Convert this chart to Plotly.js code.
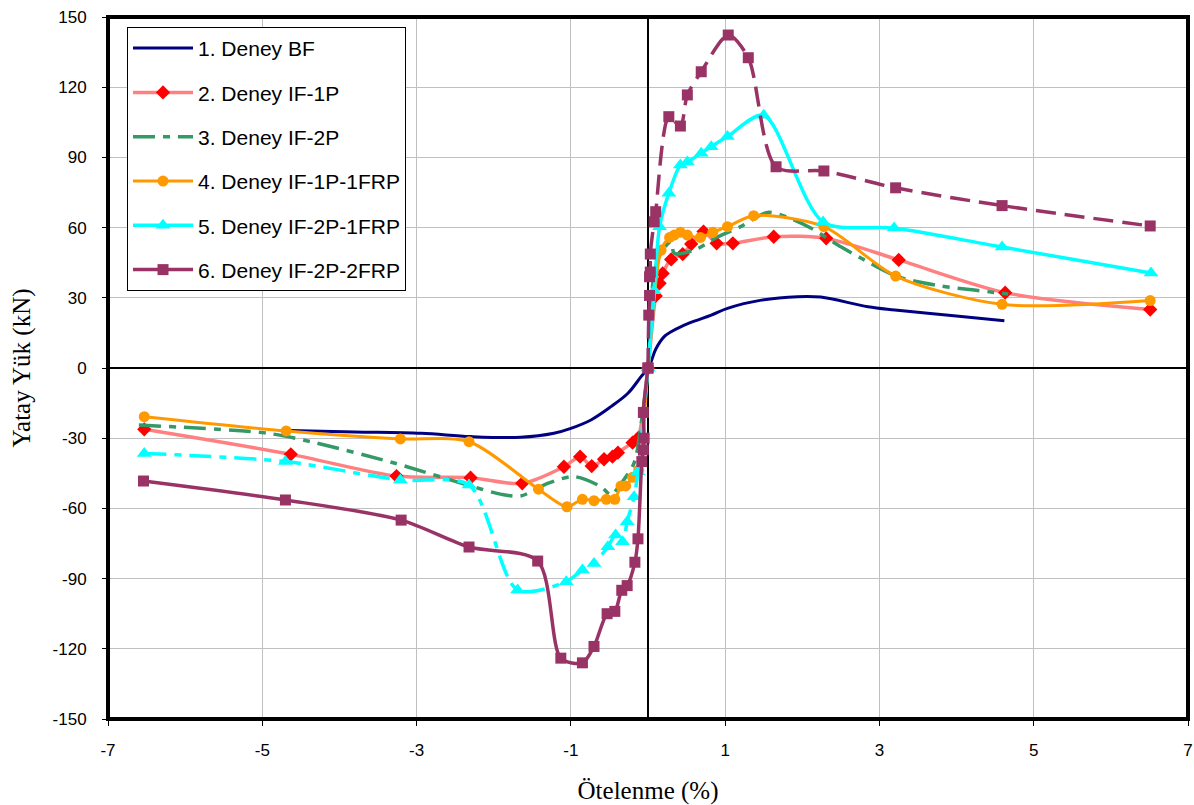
<!DOCTYPE html>
<html>
<head>
<meta charset="utf-8">
<script src="https://cdn.plot.ly/plotly-3.0.1.min.js"></script>
<style>html,body{margin:0;padding:0;background:#fff;}#chart{width:1194px;height:805px;}</style>
</head>
<body>
<div id="chart"></div>
<script>
// ---- Data ----
const seriesNames = ["1. Deney BF","2. Deney IF-1P","3. Deney IF-2P","4. Deney IF-1P-1FRP","5. Deney IF-2P-1FRP","6. Deney IF-2P-2FRP"];

const xTickVals = [-7,-5,-3,-1,1,3,5,7];
const xTickText = ["-7","-5","-3","-1","1","3","5","7"];
const yTickVals = [-150,-120,-90,-60,-30,0,30,60,90,120,150];
const yTickText = ["-150","-120","-90","-60","-30","0","30","60","90","120","150"];

const bfX = [-4.65,-3.8,-2.94,-2.3,-1.65,-1.22,-1.0,-0.74,-0.48,-0.26,-0.09,0,0.04,0.1,0.21,0.3,0.43,0.6,0.82,1.03,1.47,1.94,2.24,2.85,3.2,3.93,4.62];
const bfY = [-26.7,-27.3,-27.9,-29.3,-29.6,-27.9,-25.8,-22.2,-16.5,-10.8,-3.7,0,2.7,8,13.4,15.5,17.7,20,22.6,25.5,29,30.5,30.3,26.2,24.8,22.4,20.2];

const if1pX = [-6.53,-4.63,-3.26,-2.3,-1.63,-1.09,-0.88,-0.73,-0.57,-0.46,-0.39,-0.2,-0.13,0,0.1,0.15,0.19,0.3,0.45,0.56,0.72,0.89,1.1,1.63,2.31,3.25,4.63,6.51];
const if1pY = [-26.2,-36.9,-46.2,-46.9,-49.3,-42.2,-37.9,-41.9,-39,-37.9,-36.2,-31.9,-30,0,30.8,36.2,40.4,46.4,48.7,53,58.3,53.3,53.3,56.1,55.4,46.2,32.2,25];

const if2pX = [-6.6,-4.93,-4.37,-3.29,-2.34,-1.9,-1.65,-1.3,-0.96,-0.61,-0.48,-0.38,-0.18,-0.09,0,0.06,0.1,0.19,0.3,0.34,0.6,0.9,1.2,1.55,1.8,2.11,2.5,2.76,3.24,3.8,4.23,4.67];
const if2pY = [-24.4,-27.9,-31.5,-40.6,-50,-54,-54.7,-49.3,-46.4,-50.7,-54.3,-50.7,-40.6,-24,0,35.5,43.6,50.4,54,49,50.4,56,60.4,66.5,64.5,59.8,51.8,47,39,35,33.3,31.6];

const if1p1frpX = [-6.53,-4.69,-3.21,-2.32,-1.42,-1.05,-0.85,-0.70,-0.54,-0.43,-0.35,-0.29,-0.2,-0.12,0,0.17,0.28,0.34,0.42,0.51,0.68,0.84,1.03,1.37,2.28,3.21,4.59,6.51];
const if1p1frpY = [-20.8,-26.9,-30.3,-31.5,-51.8,-59.3,-56.1,-56.7,-56.1,-56.1,-50.4,-50.4,-46.7,-43.6,0,50.4,55.8,56.8,58,56.8,55.8,58,60.4,65.1,60.4,39.3,27.2,28.8];

const if2p1frpNegX = [-6.53,-4.7,-3.21,-2.32,-1.69,-1.06,-0.85,-0.70,-0.52,-0.42,-0.33,-0.27,-0.18,-0.13,0];
const if2p1frpNegY = [-36.5,-40,-47.9,-50,-94.9,-91.3,-86.3,-83.5,-76.4,-71.4,-74.2,-65.7,-55,-44.3,0];
const if2p1frpPosX = [0,0.08,0.15,0.27,0.42,0.51,0.69,0.82,1.03,1.5,2.27,3.19,4.59,6.52];
const if2p1frpPosY = [0,33,60.4,74.7,86.7,88,91.8,94.6,98.9,108,62.4,59.8,51.7,40.6];

const if2p2frpNegX = [-6.54,-4.7,-3.2,-2.32,-1.43,-1.13,-0.85,-0.70,-0.53,-0.43,-0.34,-0.27,-0.17,-0.13,-0.08,-0.06,-0.05,-0.06,0];
const if2p2frpNegY = [-48.3,-56.4,-65,-76.5,-82.5,-124,-126,-119,-105,-104,-95,-93,-83,-73,-40,-35,-30,-19,0];
const if2p2frpPosX = [0,0.01,0.02,0.02,0.03,0.03,0.08,0.1,0.27,0.42,0.51,0.69,1.04,1.3,1.66,2.28,3.21,4.59,6.51];
const if2p2frpPosY = [0,22.6,31,39,41,48.7,62.5,66.8,107.4,103.4,116.7,126.6,142.3,132.6,86,84.2,77,69.4,60.7];

// ---- Traces ----
const longDashDot = "22px,8px,7px,8px";
const longDash = "20px,9px";
const traces = [
  {x: bfX, y: bfY, name: seriesNames[0], legendgroup: "g1", legendrank: 1, mode: "lines",
   line: {color: "#000080", width: 3, shape: "spline", smoothing: 1}},
  {x: if1pX, y: if1pY, name: seriesNames[1], legendgroup: "g2", legendrank: 2, mode: "lines+markers",
   line: {color: "#FF8080", width: 3.5, shape: "spline", smoothing: 0.8},
   marker: {symbol: "diamond", size: 11, color: "#FF0000"}},
  {x: if2pX, y: if2pY, name: seriesNames[2], legendgroup: "g3", legendrank: 3, mode: "lines",
   line: {color: "#339966", width: 3.5, shape: "spline", smoothing: 0.8, dash: longDashDot}},
  {x: if1p1frpX, y: if1p1frpY, name: seriesNames[3], legendgroup: "g4", legendrank: 4, mode: "lines+markers",
   line: {color: "#FF9900", width: 3, shape: "spline", smoothing: 0.8},
   marker: {symbol: "circle", size: 11, color: "#FF9900"}},
  {x: if2p1frpNegX, y: if2p1frpNegY, name: seriesNames[4], legendgroup: "g5", showlegend: false, mode: "lines+markers",
   line: {color: "#00FFFF", width: 3.5, shape: "spline", smoothing: 0.8, dash: longDashDot},
   marker: {symbol: "triangle-up", size: 13, color: "#00FFFF"}},
  {x: if2p1frpPosX, y: if2p1frpPosY, name: seriesNames[4], legendgroup: "g5", legendrank: 5, mode: "lines+markers",
   line: {color: "#00FFFF", width: 3.5, shape: "spline", smoothing: 0.8},
   marker: {symbol: "triangle-up", size: 13, color: "#00FFFF"}},
  {x: if2p2frpNegX, y: if2p2frpNegY, name: seriesNames[5], legendgroup: "g6", legendrank: 6, mode: "lines+markers",
   line: {color: "#993366", width: 3.5, shape: "spline", smoothing: 0.8},
   marker: {symbol: "square", size: 11, color: "#993366"}},
  {x: if2p2frpPosX, y: if2p2frpPosY, name: seriesNames[5], legendgroup: "g6", showlegend: false, mode: "lines+markers",
   line: {color: "#993366", width: 3.5, shape: "spline", smoothing: 0.8, dash: longDash},
   marker: {symbol: "square", size: 11, color: "#993366"}}
];

const layout = {
  width: 1194, height: 805,
  margin: {l: 108, r: 6, t: 17, b: 86},
  paper_bgcolor: "#fff", plot_bgcolor: "#fff",
  font: {family: "Liberation Sans, Arial, sans-serif", color: "#000"},
  showlegend: true,
  legend: {x: 0.0176, y: 0.9858, xanchor: "left", yanchor: "top",
    bgcolor: "#fff", bordercolor: "#000", borderwidth: 1,
    font: {family: "Liberation Sans, Arial, sans-serif", size: 21, color: "#000"},
    tracegroupgap: 14, itemwidth: 60, traceorder: "grouped"},
  xaxis: {range: [-7, 7], tickmode: "array", tickvals: xTickVals, ticktext: xTickText,
    showgrid: true, gridcolor: "#c0c0c0", gridwidth: 1,
    zeroline: true, zerolinecolor: "#000", zerolinewidth: 1.5,
    ticks: "outside", ticklen: 6, tickcolor: "#000", ticklabelstandoff: 10,
    tickfont: {size: 17, family: "Liberation Sans, Arial, sans-serif"},
    showline: false, fixedrange: true,
    title: {text: "Ötelenme (%)", font: {family: "Liberation Serif, Times New Roman, serif", size: 25}, standoff: 22}},
  yaxis: {range: [-150, 150], tickmode: "array", tickvals: yTickVals, ticktext: yTickText,
    showgrid: true, gridcolor: "#c0c0c0", gridwidth: 1,
    zeroline: true, zerolinecolor: "#000", zerolinewidth: 1.5,
    ticks: "outside", ticklen: 5, tickcolor: "#000", ticklabelstandoff: 12,
    tickfont: {size: 17, family: "Liberation Sans, Arial, sans-serif"},
    showline: false, fixedrange: true,
    title: {text: "Yatay Yük (kN)", font: {family: "Liberation Serif, Times New Roman, serif", size: 25}, standoff: 14}},
  shapes: [
    {type: "rect", xref: "paper", yref: "paper", x0: 0, x1: 1, y0: 0, y1: 1,
     line: {color: "#000", width: 4}, layer: "above"}
  ]
};

Plotly.newPlot("chart", traces, layout, {displayModeBar: false, staticPlot: true});
</script>
</body>
</html>
